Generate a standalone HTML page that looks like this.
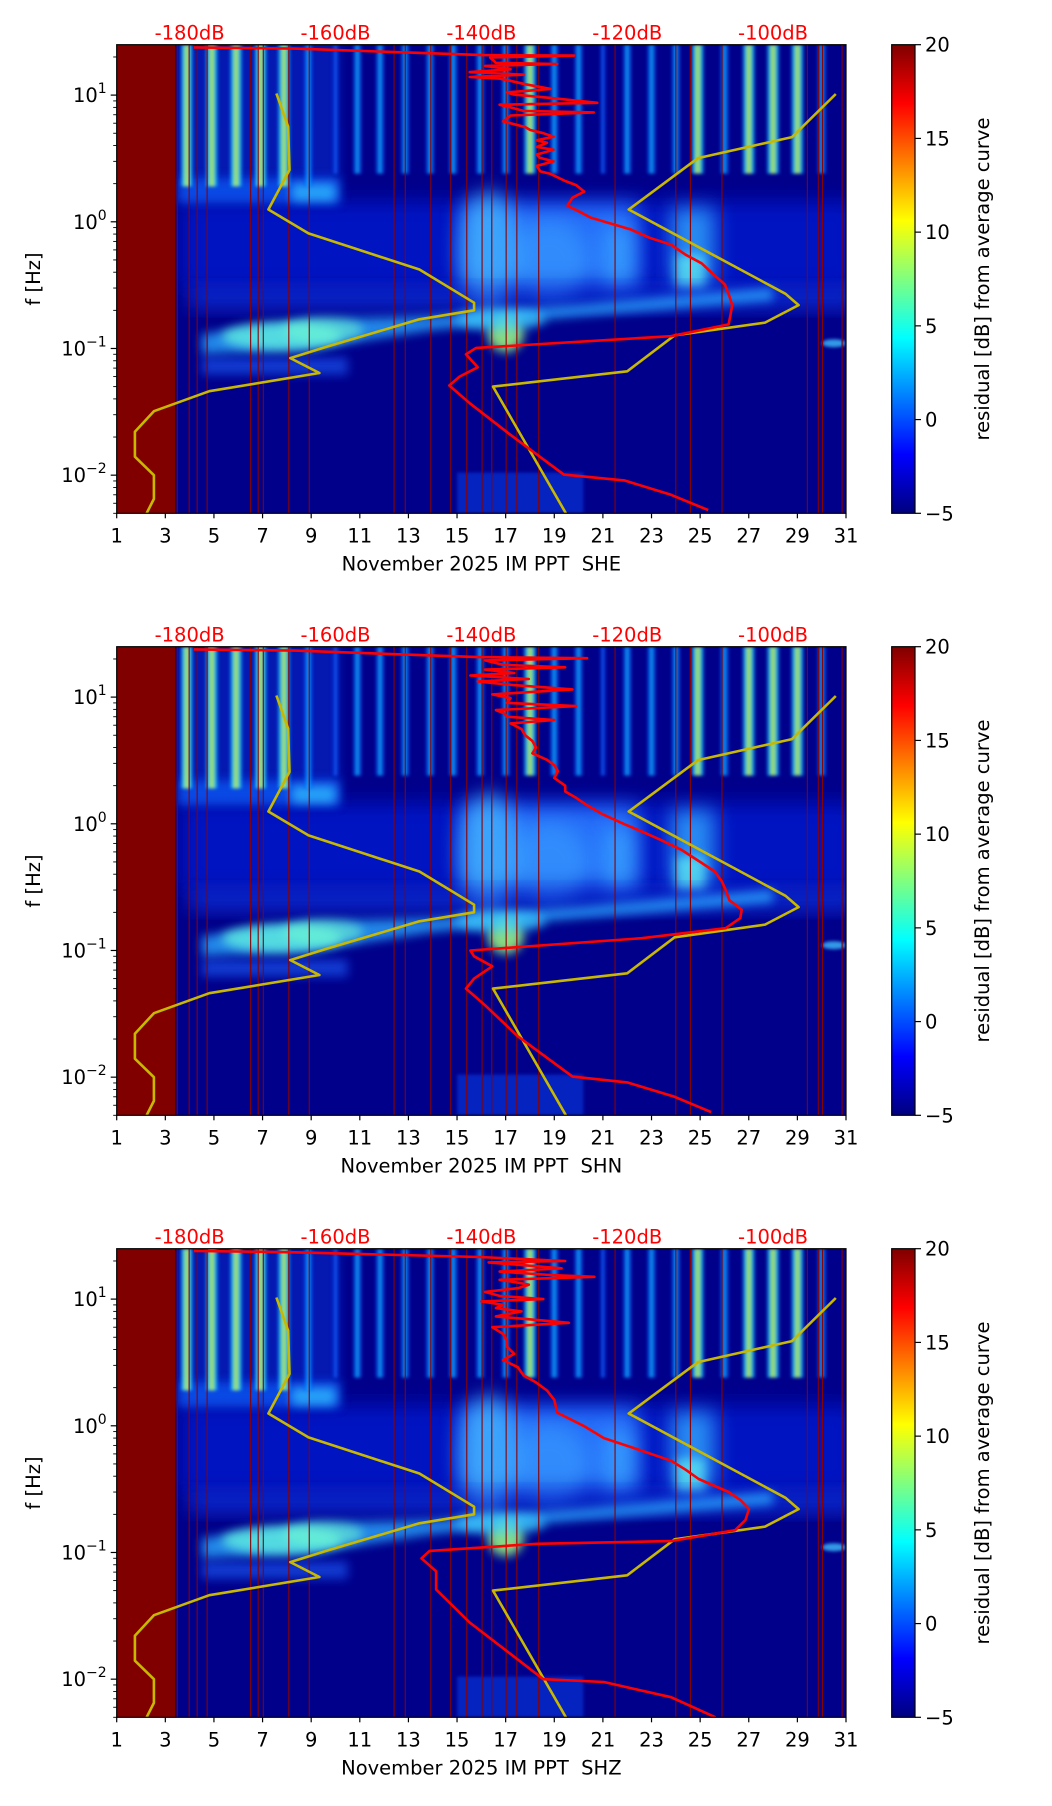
<!DOCTYPE html>
<html><head><meta charset="utf-8">
<style>
html,body{margin:0;padding:0;background:#fff;}
svg{display:block;font-family:"DejaVu Sans","Liberation Sans",sans-serif;}
</style></head>
<body>
<svg id="fig" width="1052" height="1806" viewBox="0 0 1052 1806" xmlns="http://www.w3.org/2000/svg">
<defs>
<linearGradient id="jet" x1="0" y1="1" x2="0" y2="0">
<stop offset="0" stop-color="#00007f"/><stop offset="0.125" stop-color="#0000ff"/><stop offset="0.375" stop-color="#00ffff"/><stop offset="0.625" stop-color="#ffff00"/><stop offset="0.875" stop-color="#ff0000"/><stop offset="1" stop-color="#7f0000"/>
</linearGradient>
<linearGradient id="sStrong" x1="0" y1="0" x2="1" y2="0">
<stop offset="0" stop-color="#0070ff" stop-opacity="0.5"/><stop offset="0.28" stop-color="#30e0e0"/><stop offset="0.5" stop-color="#d8f020"/><stop offset="0.72" stop-color="#30e0e0"/><stop offset="1" stop-color="#0070ff" stop-opacity="0.5"/>
</linearGradient>
<linearGradient id="sMed" x1="0" y1="0" x2="1" y2="0">
<stop offset="0" stop-color="#0040ff" stop-opacity="0.4"/><stop offset="0.5" stop-color="#10b8ff"/><stop offset="1" stop-color="#0040ff" stop-opacity="0.4"/>
</linearGradient>
<linearGradient id="sWeak" x1="0" y1="0" x2="1" y2="0">
<stop offset="0" stop-color="#0020d0" stop-opacity="0.3"/><stop offset="0.5" stop-color="#1068ff"/><stop offset="1" stop-color="#0020d0" stop-opacity="0.3"/>
</linearGradient>
<filter id="b1" x="-50%" y="-50%" width="200%" height="200%"><feGaussianBlur stdDeviation="1.5"/></filter>
<filter id="b4" x="-50%" y="-50%" width="200%" height="200%"><feGaussianBlur stdDeviation="5"/></filter>
<filter id="b8" x="-50%" y="-50%" width="200%" height="200%"><feGaussianBlur stdDeviation="10"/></filter>
</defs>
</svg>
<script>
// ---- data ----
const panelNames = ["SHE","SHN","SHZ"];
const dbTicks = [-180,-160,-140,-120,-100];
const dayTicks = [1,3,5,7,9,11,13,15,17,19,21,23,25,27,29,31];
const freqDecades = [-2,-1,0,1];
const cbTicks = [-5,0,5,10,15,20];
const nlnmFreq = [10.3,5.66,2.57,1.25,0.81,0.42,0.23,0.20,0.17,0.104,0.084,0.064,0.046,0.032,0.022,0.014,0.010,0.0065,0.005];
const nlnmDb = [-168.1,-166.5,-166.3,-169.2,-163.7,-148.5,-141.0,-141.0,-148.5,-161.0,-166.2,-162.2,-177.3,-184.9,-187.5,-187.5,-184.9,-184.9,-185.9];
const nhnmFreq = [10.2,4.66,3.18,1.25,0.27,0.22,0.16,0.127,0.066,0.050,0.005];
const nhnmDb = [-91.4,-97.4,-110.3,-119.8,-98.3,-96.5,-101.1,-113.5,-120.0,-138.4,-128.4];
const red1Freq = [23.8,23.3,20.7,20.5,19.8,18.0,17.6,17.0,16.0,15.2,14.5,13.9,13.5,13.0,12.2,11.2,10.5,10.1,9.5,8.7,8.4,8.0,7.5,7.3,6.9,6.2,5.6,5.3,5.0,4.7,4.4,4.2,3.9,3.7,3.4,3.2,3.0,2.76,2.5,2.39,2.1,1.95,1.73,1.55,1.34,1.2,1.08,0.87,0.75,0.66,0.55,0.47,0.4,0.32,0.26,0.22,0.19,0.155,0.125,0.101,0.090,0.071,0.060,0.051,0.037,0.021,0.0101,0.0091,0.0070,0.0053];
const red1Db = [-179.4,-165.6,-139.8,-127.3,-138.8,-138,-129.6,-139.5,-136,-141.6,-134.2,-141.6,-137.5,-136.1,-134,-130.5,-136.5,-135.5,-130.5,-124.1,-137.5,-136,-134.2,-124.6,-136,-137.0,-134,-133.3,-131.5,-130.1,-132.4,-131.0,-132.4,-130.1,-132.4,-132,-130.1,-132.4,-131.9,-130.5,-128.5,-127,-125.9,-127.5,-128.2,-126.5,-125.0,-119.5,-117,-114.0,-112,-109.8,-108.5,-106.6,-106,-105.6,-105.8,-106.1,-114,-140.7,-142.1,-140.5,-143,-144.4,-141.6,-136.1,-128.7,-120.4,-114,-108.9];
const red2Freq = [23.8,23.3,20.7,20.3,19.5,18.0,17.2,16.5,15.5,14.8,13.9,13.3,12.5,11.5,10.5,9.8,9.0,8.5,7.9,7.5,7.0,6.6,6.2,5.6,5.0,4.5,4.0,3.6,3.2,2.9,2.6,2.3,2.0,1.8,1.6,1.4,1.2,1.0,0.87,0.75,0.62,0.5,0.42,0.35,0.3,0.25,0.21,0.18,0.15,0.125,0.1,0.09,0.075,0.06,0.05,0.037,0.021,0.0101,0.0091,0.0070,0.0053];
const red2Db = [-179.4,-165.6,-140.5,-125.5,-139.5,-137,-128.5,-139.5,-135.5,-141.5,-133.5,-140.5,-136,-127.5,-138.5,-136,-136.5,-127,-138,-137,-136.5,-130,-136,-134.5,-134,-133,-132.5,-133,-131,-130,-129.5,-130,-128.5,-128.5,-127,-125.5,-123.5,-120.5,-118,-115.5,-112.5,-110,-108,-107,-106.5,-106,-104.3,-104.5,-106.5,-118,-141.5,-141,-138.5,-141,-142.1,-139.5,-135,-127.5,-120,-113.5,-108.5];
const red3Freq = [24.0,23.4,21.5,20.0,19.5,17.5,16.5,15.5,15.0,14.2,13.5,13.0,12.2,11.4,10.6,10.0,9.6,9.0,8.5,8.0,7.3,6.5,6.0,5.3,4.7,4.2,3.7,3.3,2.9,2.5,2.2,1.9,1.6,1.27,1.0,0.8,0.65,0.53,0.45,0.38,0.3,0.26,0.22,0.18,0.15,0.123,0.117,0.103,0.09,0.071,0.051,0.028,0.01,0.0095,0.0072,0.005];
const red3Db = [-179.4,-165.6,-140.3,-128.5,-139,-129,-137.5,-130.5,-124.5,-137.5,-135,-133.5,-135,-139.5,-137.5,-131.5,-140,-137,-138,-134.5,-138,-128,-138.5,-137,-136.5,-136.5,-135.5,-137,-135,-134.2,-132.5,-131,-130,-129.6,-126,-123.2,-118.5,-114,-112,-110.2,-106.1,-104.5,-103.3,-103.8,-105.2,-114,-132.4,-147.1,-148.2,-146.2,-146.2,-141.6,-131.5,-123.2,-114,-107.9];
const redFreqs = [red1Freq, red2Freq, red3Freq];
const redDbs = [red1Db, red2Db, red3Db];
const streakDays = [3.88,4.91,5.91,6.92,7.88,8.88,10.0,10.9,11.83,12.86,13.89,14.84,15.95,17.0,18.0,19.0,20.0,21.0,22.0,23.0,24.0,24.9,26.0,27.0,28.0,29.0,30.0];
const streakLevel = [3,3,3,3,3,2,1,2,2,2,2,2,2,2,3,2,2,1,2,2,2,3,2,3,3,3,2];
const gapDays = [3.49,3.98,4.31,4.72,6.51,6.82,7.03,8.08,8.92,12.41,12.87,13.92,14.74,15.40,16.03,16.43,17.02,17.46,18.36,21.5,24.0,24.6,25.9,29.41,29.86,30.03,30.84];

// ---- geometry ----
const NS = 'http://www.w3.org/2000/svg';
const svg = document.getElementById('fig');
const L = 116.7, R = 846, H = 468.6;
const tops = [44.7, 646.7, 1248.7];
const fmin = 0.005, fmax = 25;
const LD = Math.log10(fmax / fmin);
const xD = d => L + (d - 1) / 30 * (R - L);
const xDB = db => xD(4 + (db + 180) * 0.3);
const yF = (f, t) => t + (Math.log10(fmax) - Math.log10(f)) / LD * H;
const CBL = 891.7, CBR = 915;

function mk(tag, attrs, parent) {
  const e = document.createElementNS(NS, tag);
  for (const k in attrs) e.setAttribute(k, attrs[k]);
  (parent || svg).appendChild(e);
  return e;
}
function txt(s, attrs, parent) { const e = mk('text', attrs, parent); e.textContent = s; return e; }

panelNames.forEach((nm, p) => {
  const t = tops[p], B = t + H;
  const g = mk('g', {});
  
  
  const cp = mk('clipPath', { id: 'clip' + p }, g);
  mk('rect', { x: L, y: t, width: R - L, height: H }, cp);
  const spec = mk('g', { 'clip-path': 'url(#clip' + p + ')' }, g);
  
  
  mk('rect', { x: L, y: t, width: R - L, height: H, fill: '#00008a' }, spec);
  const blob = (d0, d1, f0, f1, col, op, filt) => {
    return mk('rect', { x: xD(d0), y: yF(f1, t), width: xD(d1) - xD(d0), height: yF(f0, t) - yF(f1, t), fill: col, opacity: op, filter: filt }, spec);
  };
  const ell = (d, f, rx, ry, col, op, filt) => mk('ellipse', { cx: xD(d), cy: yF(f, t), rx: rx, ry: ry, fill: col, opacity: op, filter: filt }, spec);
  blob(3.6, 31.5, 0.3, 1.45, '#0024e8', 0.6, 'url(#b8)');
  blob(3.5, 10.2, 2.0, 26, '#0838e0', 0.45, 'url(#b4)');
  blob(3.5, 10.2, 1.4, 2.2, '#1060ff', 0.75, 'url(#b4)');
  blob(8.2, 10.0, 1.45, 2.0, '#30c0ff', 0.75, 'url(#b4)');
  blob(15.2, 22.5, 0.33, 1.4, '#2c78ff', 0.9, 'url(#b8)');
  ell(16.3, 0.6, 30, 60, '#50d0ff', 0.55, 'url(#b8)');
  ell(18.8, 0.5, 40, 40, '#40b0ff', 0.45, 'url(#b8)');
  blob(21.0, 22.3, 0.3, 0.9, '#40b8ff', 0.55, 'url(#b8)');
  blob(23.8, 25.6, 0.32, 1.3, '#30a8ff', 0.8, 'url(#b8)');
  blob(24.0, 25.2, 0.3, 0.55, '#60f0f0', 0.7, 'url(#b4)');
  blob(4.0, 31.5, 0.21, 0.3, '#1448ff', 0.6, 'url(#b8)');
  blob(15.0, 20.2, 0.005, 0.0105, '#1050ff', 0.45, 'url(#b1)');
  blob(4.5, 10.5, 0.062, 0.085, '#1a60ff', 0.6, 'url(#b4)');
  // microseism arc
  const arcF = [0.09, 0.1, 0.14, 0.18, 0.24, 0.3, 0.22, 0.18, 0.17, 0.13];
  const arcD = [4.5, 9, 14, 20, 28, 28, 20, 14, 9, 4.5];
  let dpath = arcD.map((d, i) => (i ? 'L' : 'M') + xD(d).toFixed(1) + ',' + yF(arcF[i], t).toFixed(1)).join(' ') + 'Z';
  mk('path', { d: dpath, fill: '#2aa8ff', opacity: 0.8, filter: 'url(#b4)' }, spec);
  ell(7.8, 0.125, 60, 14, '#60f0e0', 0.8, 'url(#b4)');
  ell(9.5, 0.14, 40, 12, '#70f8d0', 0.6, 'url(#b4)');
  ell(17.0, 0.13, 18, 18, '#a0ff80', 0.85, 'url(#b4)');
  ell(16.8, 0.17, 45, 11, '#40d0ff', 0.7, 'url(#b4)');
  ell(30.5, 0.11, 12, 4, '#40c0ff', 0.8, 'url(#b1)');
  // streaks
  streakDays.forEach((d, i) => {
    const lv = streakLevel[i];
    const fb = d < 9.5 ? 1.9 : 2.4;
    const w = lv === 3 ? 13 : (lv === 2 ? 9 : 7);
    const r = mk('rect', { x: xD(d) - w / 2, y: t, width: w, height: yF(fb, t) - t, fill: lv === 3 ? 'url(#sStrong)' : (lv === 2 ? 'url(#sMed)' : 'url(#sWeak)'), filter: 'url(#b1)', opacity: 0.92 }, spec);
    
    
  });
  const blk = mk('rect', { x: L, y: t, width: xD(3.4) - L, height: H, fill: '#800000' }, spec);
  
  
  gapDays.forEach(d => {
    mk('line', { x1: xD(d), x2: xD(d), y1: t, y2: B, stroke: '#8a0000', 'stroke-width': 1.1 }, spec);
  });
  const poly = (fs, dbs, col, nmx) => {
    const pts = fs.map((f, i) => xDB(dbs[i]).toFixed(1) + ',' + yF(f, t).toFixed(1)).join(' ');
    const pl = mk('polyline', { points: pts, fill: 'none', stroke: col, 'stroke-width': 2.6, 'stroke-linejoin': 'round' }, spec);
    
    
  };
  poly(nlnmFreq, nlnmDb, '#c8b800', 'low-noise-model-curve');
  poly(nhnmFreq, nhnmDb, '#c8b800', 'high-noise-model-curve');
  poly(redFreqs[p], redDbs[p], '#ff0000', 'average-psd-curve');
  mk('rect', { x: L, y: t, width: R - L, height: H, fill: 'none', stroke: '#000', 'stroke-width': 1.2 }, g);
  dbTicks.forEach(db => {
    const e = txt(db + 'dB', { x: xDB(db), y: t - 5, 'font-size': 19.5, fill: '#ff0000', 'text-anchor': 'middle' }, g);
    
    
  });
  dayTicks.forEach(d => {
    mk('line', { x1: xD(d), x2: xD(d), y1: B, y2: B + 5, stroke: '#000', 'stroke-width': 1.2 }, g);
    const e = txt(String(d), { x: xD(d), y: B + 29, 'font-size': 19.5, 'text-anchor': 'middle', fill: '#000' }, g);
    
    
  });
  const xl = txt('November 2025 IM PPT  ' + nm, { x: (L + R) / 2, y: B + 57, 'font-size': 19.5, 'text-anchor': 'middle', fill: '#000' }, g);
  
  
  xl.style.whiteSpace = 'pre';
  freqDecades.forEach(k => {
    const y = yF(Math.pow(10, k), t);
    mk('line', { x1: L - 6, x2: L, y1: y, y2: y, stroke: '#000', 'stroke-width': 1.2 }, g);
    const e = txt('', { x: L - 10, y: y + 7, 'font-size': 19.5, 'text-anchor': 'end', fill: '#000' }, g);
    
    
    const a = mk('tspan', {}, e); a.textContent = '10';
    const b = mk('tspan', { dy: -9, 'font-size': 14 }, e); b.textContent = k < 0 ? '\u2212' + (-k) : String(k);
  });
  for (let k = -3; k <= 1; k++) for (let m = 2; m <= 9; m++) {
    const f = m * Math.pow(10, k);
    if (f < fmin || f > fmax) continue;
    const y = yF(f, t);
    mk('line', { x1: L - 3.5, x2: L, y1: y, y2: y, stroke: '#000', 'stroke-width': 0.9 }, g);
  }
  const yl = txt('f [Hz]', { x: 0, y: 0, 'font-size': 19.5, 'text-anchor': 'middle', fill: '#000', transform: 'translate(40,' + (t + H / 2) + ') rotate(-90)' }, g);
  
  
  const cb = mk('rect', { x: CBL, y: t, width: CBR - CBL, height: H, fill: 'url(#jet)', stroke: '#000', 'stroke-width': 1.2 }, g);
  
  
  cbTicks.forEach(v => {
    const y = B - (v + 5) / 25 * H;
    mk('line', { x1: CBR, x2: CBR + 6, y1: y, y2: y, stroke: '#000', 'stroke-width': 1.2 }, g);
    const e = txt(v < 0 ? '\u2212' + (-v) : String(v), { x: CBR + 10, y: y + 7, 'font-size': 19.5, fill: '#000' }, g);
    
    
  });
  const cl = txt('residual [dB] from average curve', { x: 0, y: 0, 'font-size': 19.5, 'text-anchor': 'middle', fill: '#000', transform: 'translate(989,' + (t + H / 2) + ') rotate(-90)' }, g);
  
  
});
</script>
</body></html>
